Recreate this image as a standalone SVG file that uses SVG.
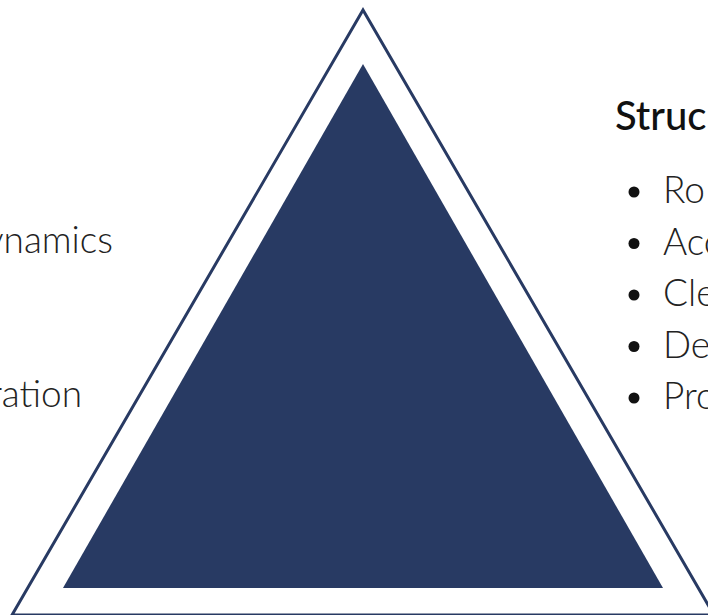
<svg xmlns="http://www.w3.org/2000/svg" width="708" height="615" viewBox="0 0 708 615">
  <style>
    .lbl { font-family: Lato, "Liberation Sans", sans-serif; font-weight: 300; font-size: 37px; fill: #222; }
    .ttl { font-family: Lato, "Liberation Sans", sans-serif; font-weight: 500; font-size: 40px; fill: #111; }
    .dot { fill: #111; }
  </style>
  <rect width="708" height="615" fill="#ffffff"/>
  <g id="outer-triangle">
    <polygon points="363,10 12,615 714,615" fill="none" stroke="#283a63" stroke-width="3"/>
  </g>
  <g id="inner-triangle">
    <polygon points="363,64 63,588 663,588" fill="#283a63"/>
  </g>
  <g id="left-labels">
    <text class="lbl" x="113" y="253" text-anchor="end">ynamics</text>
    <text class="lbl" x="82" y="407" text-anchor="end">ration</text>
  </g>
  <g id="structure-list">
    <text class="ttl" x="615" y="130">Struc</text>
    <circle class="dot" cx="634" cy="192" r="5.5"/>
    <text class="lbl" x="663" y="203">Ro</text>
    <circle class="dot" cx="634" cy="243.5" r="5.5"/>
    <text class="lbl" x="663" y="254.5">Acc</text>
    <circle class="dot" cx="634" cy="295" r="5.5"/>
    <text class="lbl" x="663" y="306">Cle</text>
    <circle class="dot" cx="634" cy="346.5" r="5.5"/>
    <text class="lbl" x="663" y="357.5">De</text>
    <circle class="dot" cx="634" cy="398" r="5.5"/>
    <text class="lbl" x="663" y="409">Pro</text>
  </g>
</svg>
